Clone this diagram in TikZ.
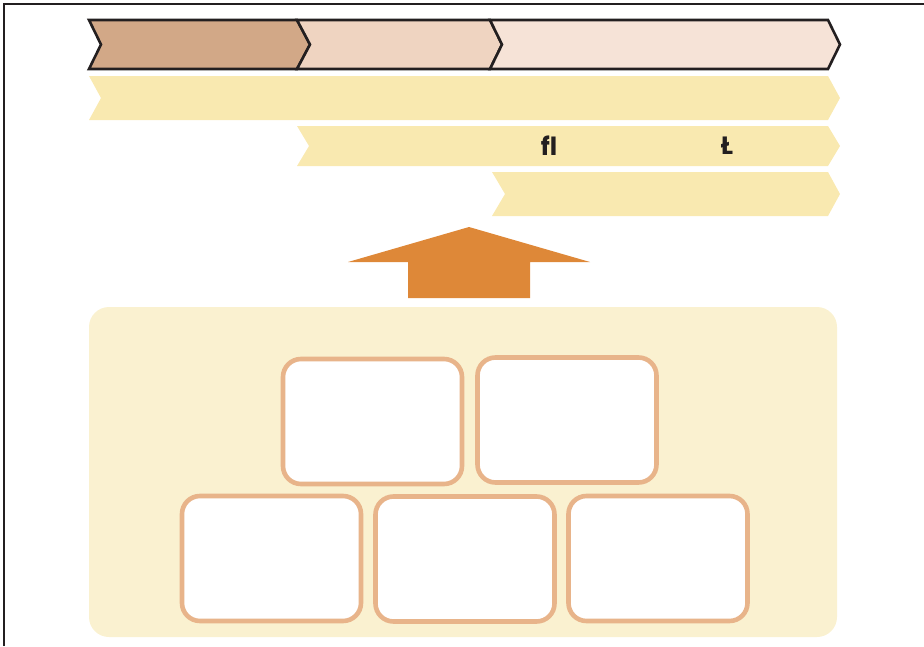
\documentclass[tikz,border=0pt]{standalone}
\usepackage{fontspec}
\setmainfont{Poppins}
\definecolor{chA}{HTML}{D2A887}
\definecolor{chB}{HTML}{EFD4C1}
\definecolor{chC}{HTML}{F6E3D7}
\definecolor{band}{HTML}{F9E9B0}
\definecolor{panel}{HTML}{FAF1D0}
\definecolor{arrowc}{HTML}{DE8838}
\definecolor{boxline}{HTML}{E8B48A}
\definecolor{ink}{HTML}{231F20}
\tikzset{
  chev/.style={draw=ink, line width=2.6pt, line join=miter},
  bandshape/.style={fill=band, draw=none},
  cell/.style={draw=boxline, line width=4.6pt, fill=white, rounded corners=18pt},
  lbl/.style={font=\bfseries\fontsize{25}{25}\selectfont, text=ink, inner sep=0pt}
}
\begin{document}
\begin{tikzpicture}[x=1pt,y=-1pt]
\useasboundingbox (0,0) rectangle (924,646);
% frame
\draw[ink, line width=2pt] (4,646) -- (4,4) -- (924,4);
% top chevrons
\filldraw[chev, fill=chA] (89,20) -- (297,20) -- (310,44.5) -- (297,69) -- (89,69) -- (101,44.5) -- cycle;
\filldraw[chev, fill=chB] (297,20) -- (490,20) -- (502,44.5) -- (490,69) -- (297,69) -- (310,44.5) -- cycle;
\filldraw[chev, fill=chC] (490,20) -- (828,20) -- (840,44.5) -- (828,69) -- (490,69) -- (502,44.5) -- cycle;
% bands
\fill[bandshape] (89,76) -- (828,76) -- (840,98) -- (828,120) -- (89,120) -- (101,98) -- cycle;
\fill[bandshape] (297,126) -- (828,126) -- (840,146) -- (828,166) -- (297,166) -- (309,146) -- cycle;
\fill[bandshape] (492,172) -- (828,172) -- (840,194) -- (828,216) -- (492,216) -- (505,194) -- cycle;
\node[lbl] (t1) at (549,146) {fl};
\node[lbl] (t2) at (727,146) {Ł};
% up arrow
\fill[arrowc] (408,298) -- (408,262) -- (348,262) -- (469,227) -- (590,262) -- (530,262) -- (530,298) -- cycle;
% panel
\fill[panel, rounded corners=20pt] (89,307) rectangle (837,637);
% cells
\node[cell, minimum width=179pt, minimum height=125pt] (c1) at (372.5,421.5) {};
\node[cell, minimum width=179pt, minimum height=125pt] (c2) at (567,420) {};
\node[cell, minimum width=179pt, minimum height=125pt] (c3) at (271.5,558.5) {};
\node[cell, minimum width=179pt, minimum height=125pt] (c4) at (465,559) {};
\node[cell, minimum width=179pt, minimum height=125pt] (c5) at (658,558.5) {};
\end{tikzpicture}
\end{document}
